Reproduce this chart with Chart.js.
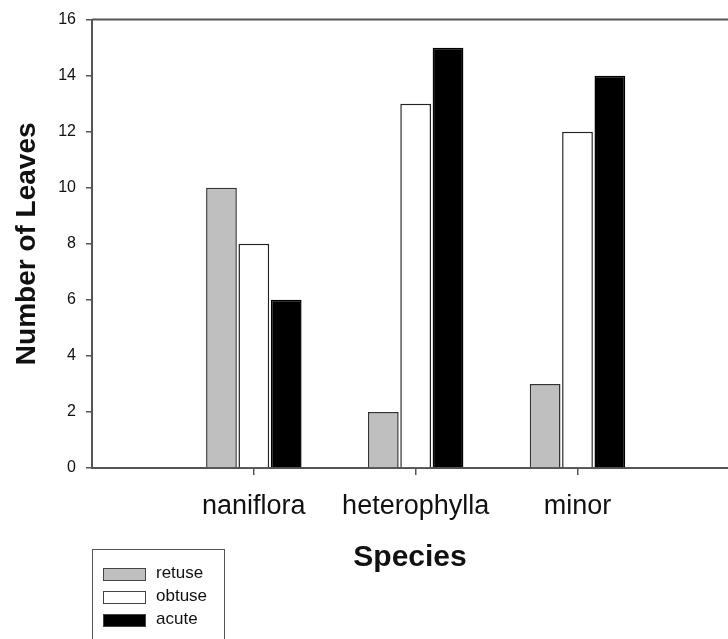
<!DOCTYPE html>
<html>
<head>
<meta charset="utf-8">
<script src="https://cdn.jsdelivr.net/npm/chart.js@4/dist/chart.umd.min.js"></script>
<style>
  html, body { margin: 0; padding: 0; background: #fff; }
  #wrap { position: relative; width: 728px; height: 639px; overflow: hidden; }
  #legend { position: absolute; left: 92px; top: 549px; width: 133px; height: 120px;
            border: 1px solid #555; box-sizing: border-box; font-family: "Liberation Sans", Arial, sans-serif; }
  .item { position: absolute; left: 10px; height: 14px; font-size: 17px; color: #111; }
  .sw { position: absolute; left: 0; top: 0; width: 41px; height: 11px; border: 1px solid #444; }
  .lab { position: absolute; left: 53px; top: -5px; white-space: nowrap; }
</style>
</head>
<body>
<div id="wrap">
  <canvas id="c" width="728" height="639"></canvas>
  <div id="legend"></div>
</div>
<script>
const categories = ['naniflora', 'heterophylla', 'minor'];
const seriesNames = ['retuse', 'obtuse', 'acute'];
const retuse = [10, 2, 3];
const obtuse = [8, 13, 12];
const acute = [6, 15, 14];
const yTickValues = [0, 2, 4, 6, 8, 10, 12, 14, 16];

const fills = ['#bfbfbf', '#ffffff', '#000000'];
const borders = ['#333333', '#222222', '#000000'];
const seriesValues = [retuse, obtuse, acute];

const datasets = seriesNames.map((name, s) => ({
  label: name,
  data: seriesValues[s].map((v, i) => ({ x: i + 1, y: v })),
  backgroundColor: fills[s],
  borderColor: borders[s],
  borderWidth: 1.5,
  barPercentage: 0.95,
  categoryPercentage: 0.6
}));

const frameTop = {
  id: 'frameTop',
  afterDraw(chart) {
    const { ctx, chartArea } = chart;
    ctx.save();
    ctx.strokeStyle = '#555';
    ctx.lineWidth = 2;
    ctx.beginPath();
    ctx.moveTo(chartArea.left, chartArea.top);
    ctx.lineTo(chart.width, chartArea.top);
    ctx.stroke();
    ctx.restore();
  }
};

const FONT = '"Liberation Sans", Arial, sans-serif';

const chart = new Chart(document.getElementById('c'), {
  type: 'bar',
  data: { datasets },
  plugins: [frameTop],
  options: {
    responsive: false,
    animation: false,
    layout: { padding: { top: 16, left: 0, right: 0, bottom: 0 } },
    plugins: { legend: { display: false }, tooltip: { enabled: false } },
    scales: {
      x: {
        type: 'linear',
        offset: false,
        min: 0,
        max: 3.93,
        afterBuildTicks(scale) { scale.ticks = categories.map((c, i) => ({ value: i + 1 })); },
        afterFit(scale) { scale.height = 171; },
        ticks: {
          callback: (v) => categories[v - 1] || '',
          font: { family: FONT, size: 27 },
          color: '#111',
          padding: 15,
          maxRotation: 0,
          autoSkip: false
        },
        grid: { offset: false, drawOnChartArea: false, drawTicks: true, tickLength: 7, color: '#555', lineWidth: 1.5 },
        border: { display: true, color: '#555', width: 2 },
        title: {
          display: true,
          text: 'Species',
          font: { family: FONT, size: 30, weight: 'bold' },
          color: '#111',
          padding: { top: 0, bottom: 63 }
        }
      },
      y: {
        min: 0,
        max: 16,
        afterBuildTicks(scale) { scale.ticks = yTickValues.map(v => ({ value: v })); },
        afterFit(scale) { scale.width = 92; },
        ticks: {
          font: { family: FONT, size: 16 },
          color: '#111',
          padding: 10
        },
        grid: { drawOnChartArea: false, drawTicks: true, tickLength: 6, color: '#555', lineWidth: 1.5 },
        border: { display: true, color: '#555', width: 2 },
        title: {
          display: true,
          text: 'Number of Leaves',
          font: { family: FONT, size: 28, weight: 'bold' },
          color: '#111',
          padding: { top: 10, bottom: 0 }
        }
      }
    }
  }
});

const legend = document.getElementById('legend');
chart.data.datasets.forEach((ds, i) => {
  const item = document.createElement('div');
  item.className = 'item';
  item.style.top = (18 + i * 23) + 'px';
  const sw = document.createElement('div');
  sw.className = 'sw';
  sw.style.background = ds.backgroundColor;
  const lab = document.createElement('span');
  lab.className = 'lab';
  lab.textContent = ds.label;
  item.appendChild(sw);
  item.appendChild(lab);
  legend.appendChild(item);
});
</script>
</body>
</html>
